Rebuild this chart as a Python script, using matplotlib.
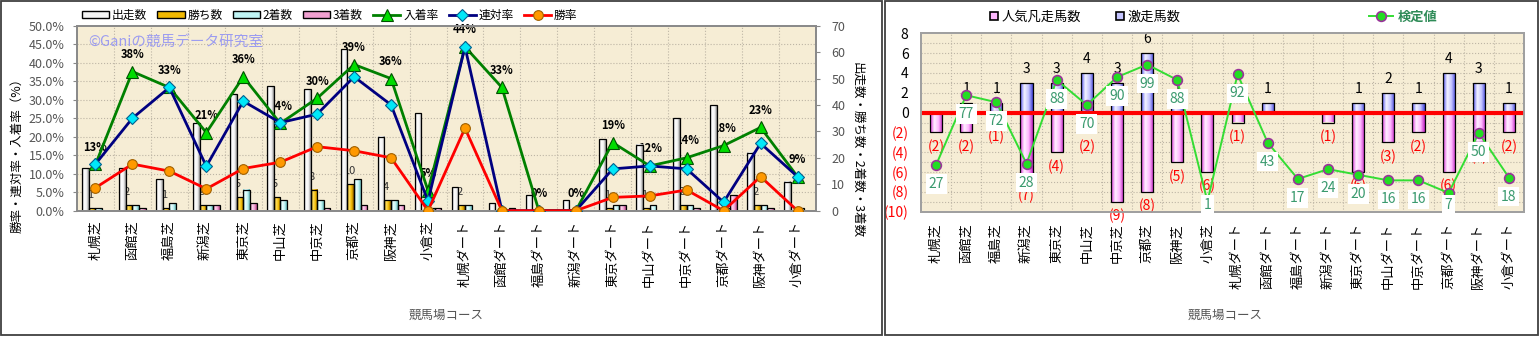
import numpy as np
import matplotlib
matplotlib.use('Agg')
import matplotlib.pyplot as plt
from matplotlib.colors import LinearSegmentedColormap
from matplotlib.patches import Rectangle, Patch

plt.rcParams['font.family'] = ['Noto Sans CJK JP', 'DejaVu Sans']

# ---- data ----
courses = ['札幌芝', '函館芝', '福島芝', '新潟芝', '東京芝', '中山芝', '中京芝', '京都芝', '阪神芝', '小倉芝',
           '札幌ダート', '函館ダート', '福島ダート', '新潟ダート', '東京ダート', '中山ダート', '中京ダート',
           '京都ダート', '阪神ダート', '小倉ダート']

runs = [16, 16, 12, 33, 44, 47, 46, 61, 28, 37, 9, 3, 6, 4, 27, 25, 35, 40, 22, 11]
wins = [1, 2, 1, 2, 5, 5, 8, 10, 4, 0, 2, 0, 0, 0, 1, 1, 2, 0, 2, 0]
seconds = [1, 2, 3, 2, 8, 4, 4, 12, 4, 1, 2, 0, 0, 0, 2, 2, 2, 1, 2, 1]
thirds = [0, 1, 0, 2, 3, 0, 1, 2, 2, 1, 0, 1, 0, 0, 2, 0, 1, 6, 1, 0]

win_rate = [6.2, 12.6, 10.7, 5.9, 11.4, 13.1, 17.3, 16.2, 14.3, 0, 22.3, 0, 0, 0, 3.6, 4.0, 5.6, 0, 9.2, 0]
quinella_rate = [12.6, 25.0, 33.3, 12.0, 29.6, 23.8, 26.1, 36.2, 28.6, 2.6, 44.3, 0, 0, 0, 11.3, 12.1, 11.3, 2.3,
                 18.2, 9.2]
place_rate = [12.5, 37.6, 33.3, 21.1, 36.2, 23.6, 30.4, 39.5, 35.7, 5.4, 44.3, 33.3, 0, 0, 18.4, 12.1, 14.3,
              17.6, 22.5, 9.2]
place_labels = ['13%', '38%', '33%', '21%', '36%', '24%', '30%', '39%', '36%', '5%', '44%', '33%', '0%', '0%',
                '19%', '12%', '14%', '18%', '23%', '9%']

fav_fail = [-2, -2, -1, -7, -4, -2, -9, -8, -5, -6, -1, 0, 0, -1, -6, -3, -2, -6, -3, -2]
surge = [0, 1, 1, 3, 3, 4, 3, 6, 1, 0, 0, 1, 0, 0, 1, 2, 1, 4, 3, 1]
test_vals = [27, 77, 72, 28, 88, 70, 90, 99, 88, 1, 92, 43, 17, 24, 20, 16, 16, 7, 50, 18]

W, H = 1539, 337
BG = '#F6EDD5'
GRID = '#BDB5A5'
GRAD = np.linspace(0, 1, 64).reshape(1, -1)


def cmap(colors):
    return LinearSegmentedColormap.from_list('g', colors)


def grad_bars(ax, x, h, w, colors, z, bottom=0):
    # bar outline from ax.bar, gradient fill clipped to the same rectangle
    bars = ax.bar(x, h, w, bottom=bottom, facecolor='none', edgecolor='black', lw=0.9, zorder=z)
    cm = cmap(colors)
    for r in bars:
        if r.get_height() == 0:
            continue
        ax.imshow(GRAD, cmap=cm, extent=(r.get_x(), r.get_x() + r.get_width(), r.get_y(), r.get_y() + r.get_height()),
                  aspect='auto', zorder=z - 0.005, interpolation='bilinear')
    return bars


fig = plt.figure(figsize=(W / 100, H / 100), dpi=100)

# panel borders
fig.patches.append(Rectangle((1 / W, 1 - 335 / H), 881 / W, 334 / H, transform=fig.transFigure,
                             fill=False, ec='#404040', lw=1.3))
fig.patches.append(Rectangle((884.5 / W, 1 - 335 / H), 653 / W, 334 / H, transform=fig.transFigure,
                             fill=False, ec='#404040', lw=1.3))

# ================= left chart =================
x = np.arange(len(courses))
axc = fig.add_axes([77 / W, 1 - 210.7 / H, 739 / W, 185 / H])
axc.set_facecolor(BG)
axp = axc.twinx()

w = 0.18
cols_run = ['#B8B8B8', '#FFFFFF', '#F2F2F2', '#8C8C8C']
cols_win = ['#C08800', '#FFE060', '#F0B800', '#906000']
cols_2nd = ['#70C8C8', '#F0FFFF', '#C0F4F4', '#60B0B0']
cols_3rd = ['#D060A0', '#FFD8F0', '#F0A0D0', '#B04080']
grad_bars(axc, x - 1.5 * w, runs, w, cols_run, 2)
grad_bars(axc, x - 0.5 * w, wins, w, cols_win, 2)
grad_bars(axc, x + 0.5 * w, seconds, w, cols_2nd, 2)
grad_bars(axc, x + 1.5 * w, thirds, w, cols_3rd, 2)

# grid
for p in range(5, 50, 5):
    axc.axhline(p * 70 / 50, color=GRID, ls=':', lw=0.8, zorder=0.5)
for b in np.arange(0.5, len(courses) - 1, 1):
    axc.axvline(b, color=GRID, ls=':', lw=0.8, zorder=0.5)

# win count labels (partly behind bars)
for i, v in enumerate(wins):
    if v > 0:
        axc.annotate(str(v), (i - 0.5 * w, v), xytext=(-2, 13), textcoords='offset pixels',
                     ha='center', va='center', fontsize=8, color='#333333', zorder=1.5)

# place rate labels (behind the bars, as in the original)
for i, (v, s) in enumerate(zip(place_rate, place_labels)):
    axc.annotate(s, (i, v), xycoords=axp.transData, xytext=(0, 17), textcoords='offset pixels',
                 ha='center', va='center', fontsize=8, fontweight='bold', color='black', zorder=1.5)

fig.text(88 / W, 1 - 43 / H, '©Ganiの競馬データ研究室', color='#9C9CF0', fontsize=10.5, va='center', ha='left')

l1, = axp.plot(x, place_rate, color='#008000', lw=2, marker='^', ms=8, mfc='#00DD00', mec='#005000',
               mew=0.8, zorder=4)
l2, = axp.plot(x, quinella_rate, color='#000080', lw=2, marker='D', ms=6, mfc='#00E8F8', mec='#006090',
               mew=0.8, zorder=5)
l3, = axp.plot(x, win_rate, color='#FF0000', lw=2, marker='o', ms=7, mfc='#FF9900', mec='#A06000',
               mew=0.8, zorder=6)

axc.set_xlim(-0.5, len(courses) - 0.5)
axc.set_ylim(0, 70)
axp.set_ylim(0, 50)
axc.yaxis.tick_right()
axp.yaxis.tick_left()
axc.set_yticks(range(0, 71, 10))
axp.set_yticks(range(0, 51, 5))
axp.set_yticklabels([f'{v:.1f}%' for v in range(0, 51, 5)])
axc.set_xticks(x)
axc.set_xticklabels(courses, rotation=90, fontsize=9.5, color='black')
axc.tick_params(axis='x', length=0, pad=7)
axc.tick_params(axis='y', labelsize=9, labelcolor='#555555', length=3, color='#888888', pad=8)
axp.tick_params(axis='y', labelsize=9, labelcolor='#555555', length=3, color='#888888', pad=6)
for ax in (axc, axp):
    for sp in ax.spines.values():
        sp.set_color('#8A8A8A')
        sp.set_linewidth(1.3)

fig.text(17 / W, 1 - 152 / H, '勝率・連対率・入着率（%）', rotation=90, ha='center', va='center', fontsize=9)
fig.text(857 / W, 1 - 150 / H, '出走数・勝ち数・2着数・3着数', rotation=270, ha='center', va='center', fontsize=9)
fig.text(446 / W, 1 - 315 / H, '競馬場コース', ha='center', va='center', fontsize=9, color='#555555')

handles = [Patch(facecolor='#F4F4F4', edgecolor='black', lw=1),
           Patch(facecolor='#F0B800', edgecolor='black', lw=1),
           Patch(facecolor='#C0F4F4', edgecolor='black', lw=1),
           Patch(facecolor='#F0A0D0', edgecolor='black', lw=1), l1, l2, l3]
fig.legend(handles, ['出走数', '勝ち数', '2着数', '3着数', '入着率', '連対率', '勝率'],
           loc='center left', bbox_to_anchor=(82 / W, 1 - 15 / H), ncol=7, frameon=False, fontsize=8.5,
           handlelength=2.3, handleheight=0.5, handletextpad=0.25, columnspacing=0.85,
           borderpad=0, borderaxespad=0)

# ================= right chart =================
axr = fig.add_axes([921 / W, 1 - 211.7 / H, 603 / W, 178.4 / H])
axr.set_facecolor(BG)
axv = axr.twinx()

for yv in range(-9, 8):
    axr.axhline(yv, color=GRID, ls=':', lw=0.8, zorder=0.5)
for b in np.arange(0.5, len(courses) - 1, 1):
    axr.axvline(b, color=GRID, ls=':', lw=0.8, zorder=0.5)

cols_pink = ['#D830D8', '#FFF0FF', '#FFB8FF', '#C020C0']
cols_blue = ['#5050F0', '#F4F4FF', '#C4C4FF', '#4040D8']
grad_bars(axr, x, fav_fail, 0.4, cols_pink, 2)
grad_bars(axr, x, surge, 0.4, cols_blue, 2)
axr.axhline(0, color='#FF0000', lw=3, zorder=3)

for i, (s, f) in enumerate(zip(surge, fav_fail)):
    if s > 0:
        axr.annotate(str(s), (i, s), xytext=(0, 13.7), textcoords='offset pixels', ha='center', va='center',
                     fontsize=10, color='black', zorder=4)
    if f < 0:
        axr.annotate(f'({-f})', (i, f), xytext=(0, -14.3), textcoords='offset pixels', ha='center',
                     va='center', fontsize=10, color='#FF0000', zorder=4)

l4, = axv.plot(x, test_vals, color='#33DD33', lw=1.4, marker='o', ms=7, mfc='#22DD22', mec='#993399',
               mew=1.2, zorder=4)
# labels sit below the markers but stay inside the plot area
label_y = np.maximum(np.array(test_vals) - 13.6, -1.6)
for i, (v, ly) in enumerate(zip(test_vals, label_y)):
    axv.text(i, ly, str(v), ha='center', va='center', fontsize=10, color='#3A9A6E', zorder=5,
             bbox=dict(boxstyle='square,pad=0.2', fc='white', ec='none'))

axr.set_xlim(-0.5, len(courses) - 0.5)
axr.set_ylim(-10, 8)
axv.set_ylim(-6.46, 121.4)
axv.set_yticks([])
axr.set_yticks(range(-10, 9, 2))
axr.set_yticklabels([f'({-v})' if v < 0 else str(v) for v in range(-10, 9, 2)])
for t, v in zip(axr.get_yticklabels(), range(-10, 9, 2)):
    t.set_color('#FF0000' if v < 0 else 'black')
axr.tick_params(axis='y', labelsize=10, length=0, pad=9)
axr.set_xticks(x)
axr.set_xticklabels(courses, rotation=90, fontsize=9.5, color='black')
axr.tick_params(axis='x', length=0, pad=8)
for ax in (axr, axv):
    for sp in ax.spines.values():
        sp.set_color('#A0A0A0')
        sp.set_linewidth(1.3)

fig.text(1225 / W, 1 - 315 / H, '競馬場コース', ha='center', va='center', fontsize=9, color='#555555')

fig.legend([Patch(facecolor='#FFB8FF', edgecolor='black', lw=1.2),
            Patch(facecolor='#C4C4FF', edgecolor='black', lw=1.2)],
           ['人気凡走馬数', '激走馬数'], loc='center left', bbox_to_anchor=(990 / W, 1 - 17 / H), ncol=2,
           frameon=False, fontsize=9.5, handlelength=0.6, handleheight=0.6, handletextpad=0.3,
           columnspacing=2.6, borderpad=0, borderaxespad=0)
leg = fig.legend([l4], ['検定値'], loc='center left', bbox_to_anchor=(1369 / W, 1 - 17 / H), frameon=False,
                 fontsize=9.5, handlelength=1.8, handletextpad=0.4, borderpad=0, borderaxespad=0,
                 labelcolor='#2E8B57')
for t in leg.get_texts():
    t.set_fontweight('bold')

fig.savefig('out.png', dpi=100)
